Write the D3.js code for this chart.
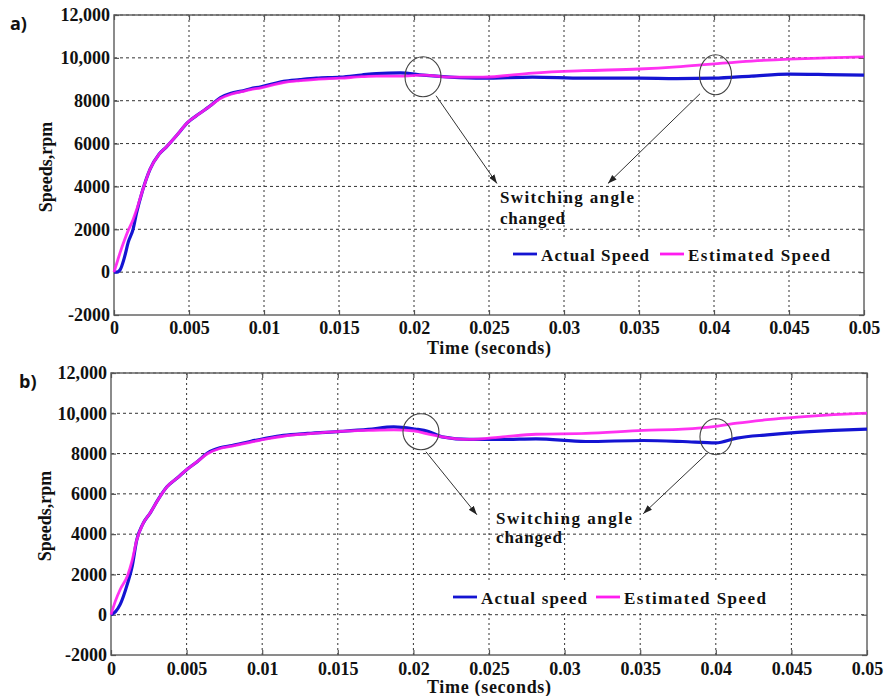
<!DOCTYPE html>
<html><head><meta charset="utf-8">
<script src="https://cdnjs.cloudflare.com/ajax/libs/d3/7.8.5/d3.min.js"></script>
<style>body{margin:0;background:#fff}svg{display:block}</style>
</head><body>
<script>
// ---------- DATA ----------
const xTicks = [0, 0.005, 0.01, 0.015, 0.02, 0.025, 0.03, 0.035, 0.04, 0.045, 0.05];
const xTickLabels = ["0","0.005","0.01","0.015","0.02","0.025","0.03","0.035","0.04","0.045","0.05"];
const yTicks = [-2000, 0, 2000, 4000, 6000, 8000, 10000, 12000];
const yTickLabels = ["-2000","0","2000","4000","6000","8000","10,000","12,000"];

const timeA = [0,0.0002,0.0004,0.0007,0.00095,0.00127,0.0015,0.0019,0.0024,0.003,0.0035,0.0042,0.0049,0.0057,0.0064,0.0071,0.0078,0.0085,0.0091,0.0098,0.0106,0.0113,0.0124,0.0135,0.0151,0.0165,0.0175,0.0191,0.0206,0.0224,0.0246,0.0279,0.0313,0.035,0.0375,0.04,0.0425,0.045,0.0475,0.05];
const actualA = [0,0,100,700,1400,2000,2750,3800,4800,5500,5850,6400,6980,7400,7750,8150,8350,8450,8560,8650,8790,8900,8980,9050,9100,9200,9270,9300,9190,9100,9050,9100,9050,9050,9030,9050,9150,9240,9220,9190];
const estimatedA = [0,450,900,1500,1950,2450,2900,3800,4800,5500,5850,6400,6980,7400,7750,8100,8300,8420,8520,8600,8740,8850,8940,9000,9050,9120,9150,9150,9190,9100,9100,9290,9400,9480,9580,9720,9850,9940,10000,10050];

const timeB = [0,0.0003,0.0006,0.0011,0.0014,0.0017,0.0021,0.0026,0.0031,0.0037,0.0044,0.005,0.0057,0.0064,0.0072,0.008,0.0092,0.0104,0.0114,0.013,0.0152,0.017,0.0187,0.0201,0.021,0.0219,0.0237,0.0259,0.0281,0.0314,0.0352,0.0378,0.04,0.0414,0.0434,0.0454,0.0478,0.05];
const actualB = [0,150,500,1570,2400,3700,4500,5060,5700,6350,6800,7200,7600,8040,8290,8400,8600,8780,8900,9000,9100,9200,9330,9220,9100,8830,8700,8700,8730,8600,8650,8600,8530,8770,8930,9050,9150,9210];
const estimatedB = [0,700,1240,1950,2700,3700,4500,5060,5700,6350,6800,7200,7600,8000,8250,8370,8560,8740,8860,8980,9100,9150,9180,9120,8960,8830,8700,8830,8960,9000,9150,9210,9350,9510,9680,9810,9930,10010];

const seriesNamesA = ["Actual Speed", "Estimated Speed"];
const seriesNamesB = ["Actual speed", "Estimated Speed"];
const seriesColors = ["#1414d2", "#ff1cf0"];
const annotationText = ["Switching angle", "changed"];
const xLabel = "Time (seconds)";
const yLabel = "Speeds,rpm";

// ---------- LAYOUT ----------
const W = 884, H = 696;
const svg = d3.select("body").append("svg").attr("width", W).attr("height", H);
const defs = svg.append("defs");
defs.append("marker").attr("id","arr").attr("viewBox","0 0 10 10").attr("refX",10).attr("refY",5)
  .attr("markerWidth",9).attr("markerHeight",9).attr("markerUnits","userSpaceOnUse").attr("orient","auto")
  .append("path").attr("d","M0,1.5 L10,5 L0,8.5 Z").attr("fill","#222");

const serif = "Liberation Serif, Times New Roman, serif";

function panel(cfg) {
  const x = d3.scaleLinear().domain([0, 0.05]).range([cfg.x0, cfg.x1]);
  const y = d3.scaleLinear().domain([-2000, 12000]).range([cfg.y1, cfg.y0]);
  const g = svg.append("g");

  // grid
  g.append("g").selectAll("line").data(xTicks.slice(1, -1)).join("line")
    .attr("x1", d => x(d)).attr("x2", d => x(d)).attr("y1", cfg.y0).attr("y2", cfg.y1)
    .attr("stroke", "#333").attr("stroke-width", 1).attr("stroke-dasharray", "2,3");
  g.append("g").selectAll("line").data(yTicks.slice(1)).join("line")
    .attr("x1", cfg.x0).attr("x2", cfg.x1).attr("y1", d => y(d)).attr("y2", d => y(d))
    .attr("stroke", "#333").attr("stroke-width", 1).attr("stroke-dasharray", "3,3");

  // legend background (hides grid)
  g.append("rect").attr("x", cfg.leg.x - 6).attr("y", cfg.leg.y - 14).attr("width", cfg.leg.w).attr("height", 28).attr("fill", "#fff");

  // axes box
  g.append("rect").attr("x", cfg.x0).attr("y", cfg.y0).attr("width", cfg.x1 - cfg.x0).attr("height", cfg.y1 - cfg.y0)
    .attr("fill", "none").attr("stroke", "#666").attr("stroke-width", 1.5);

  // axes with inner ticks
  const xb = d3.axisBottom(x).tickValues(xTicks).tickFormat((d, i) => xTickLabels[i]).tickSizeInner(-5).tickSizeOuter(0).tickPadding(cfg.xpad);
  const xt = d3.axisTop(x).tickValues(xTicks).tickFormat("").tickSizeInner(-5).tickSizeOuter(0);
  const yl = d3.axisLeft(y).tickValues(yTicks).tickFormat((d, i) => yTickLabels[i]).tickSizeInner(-5).tickSizeOuter(0).tickPadding(4);
  const yr = d3.axisRight(y).tickValues(yTicks).tickFormat("").tickSizeInner(-5).tickSizeOuter(0);
  const gx = g.append("g").attr("transform", `translate(0,${cfg.y1})`).call(xb);
  g.append("g").attr("transform", `translate(0,${cfg.y0})`).call(xt);
  const gy = g.append("g").attr("transform", `translate(${cfg.x0},0)`).call(yl);
  g.append("g").attr("transform", `translate(${cfg.x1},0)`).call(yr);
  g.selectAll(".domain").remove();
  [gx, gy].forEach(a => a.attr("font-family", serif).attr("font-size", 18).attr("font-weight", "bold"));
  g.selectAll(".tick line").attr("stroke", "#555").attr("stroke-width", 1.2);
  gx.selectAll("text").style("font-family", serif).style("font-weight", "bold").style("font-size", "18px").attr("fill", "#111")
    .attr("dy", "0.75em");
  gy.selectAll("text").style("font-family", serif).style("font-weight", "bold").style("font-size", "18px").attr("fill", "#111");

  // lines
  const line = d3.line().x(d => x(d[0])).y(d => y(d[1])).curve(d3.curveMonotoneX);
  const s1 = cfg.t.map((t, i) => [t, cfg.a[i]]);
  const s2 = cfg.t.map((t, i) => [t, cfg.e[i]]);
  g.append("path").datum(s1).attr("d", line).attr("fill", "none").attr("stroke", seriesColors[0]).attr("stroke-width", 3.2);
  g.append("path").datum(s2).attr("d", line).attr("fill", "none").attr("stroke", seriesColors[1]).attr("stroke-width", 2.8).attr("stroke-opacity", 0.9);

  // annotations
  cfg.ell.forEach(e => {
    g.append("ellipse").attr("cx", x(e[0])).attr("cy", y(e[1])).attr("rx", e[2]).attr("ry", e[3])
      .attr("fill", "none").attr("stroke", "#444").attr("stroke-width", 1.1);
  });
  cfg.arrows.forEach(a => {
    g.append("line").attr("x1", x(a[0])).attr("y1", y(a[1])).attr("x2", x(a[2])).attr("y2", y(a[3]))
      .attr("stroke", "#333").attr("stroke-width", 1).attr("marker-end", "url(#arr)");
  });
  annotationText.forEach((t, i) => {
    g.append("text").attr("x", x(cfg.txt[0])).attr("y", y(cfg.txt[1 + i]))
      .style("font-family", serif).style("font-weight", "bold").style("font-size", "17px").attr("fill", "#111")
      .attr("textLength", cfg.txtLen[i]).attr("lengthAdjust", "spacing").text(t);
  });

  // legend
  const L = cfg.leg;
  cfg.names.forEach((n, i) => {
    const lx = L.items[i];
    g.append("line").attr("x1", lx).attr("x2", lx + 24).attr("y1", L.y).attr("y2", L.y)
      .attr("stroke", seriesColors[i]).attr("stroke-width", 2.8);
    g.append("text").attr("x", lx + 28).attr("y", L.y + 7).style("font-family", serif).style("font-weight", "bold")
      .style("font-size", "17px").attr("fill", "#111").attr("textLength", L.lens[i]).attr("lengthAdjust", "spacing").text(n);
  });

  // axis labels
  g.append("text").attr("x", (cfg.x0 + cfg.x1) / 2).attr("y", cfg.xlabY).attr("text-anchor", "middle")
    .style("font-family", serif).style("font-weight", "bold").style("font-size", "18px").attr("fill", "#111")
    .attr("textLength", 124).attr("lengthAdjust", "spacing").text(xLabel);
  g.append("text").attr("transform", `translate(${cfg.ylabX},${(cfg.y0 + cfg.y1) / 2 + 2}) rotate(-90)`).attr("text-anchor", "middle")
    .style("font-family", serif).style("font-weight", "bold").style("font-size", "18px").attr("fill", "#111").text(yLabel);

  // panel letter
  g.append("text").attr("x", cfg.letter[0]).attr("y", cfg.letter[1]).style("font-family", "Open Sans, DejaVu Sans, sans-serif")
    .style("font-weight", "bold").style("font-size", "18px").attr("fill", "#111").text(cfg.letter[2]);
}

panel({
  x0: 114, x1: 864, y0: 15, y1: 315, xpad: 5,
  t: timeA, a: actualA, e: estimatedA, names: seriesNamesA,
  ell: [[0.0206, 9116, 18, 20], [0.0401, 9210, 16, 20]],
  arrows: [[0.02147, 8233, 0.02553, 4140], [0.03907, 8326, 0.03293, 4140]],
  txt: [0.02573, 3209, 2233], txtLen: [134, 65],
  leg: { x: 513, y: 254, w: 322, items: [513, 660], lens: [108, 142] },
  xlabY: 354, ylabX: 52, letter: [10, 30, "a)"]
});
panel({
  x0: 111, x1: 867, y0: 373, y1: 655, xpad: 6,
  t: timeB, a: actualB, e: estimatedB, names: seriesNamesB,
  ell: [[0.0205, 9082, 18, 18], [0.04001, 8834, 16, 18]],
  arrows: [[0.02083, 8089, 0.0242, 4963], [0.0394, 7990, 0.0352, 5012]],
  txt: [0.02546, 4516, 3573], txtLen: [136, 66],
  leg: { x: 453, y: 597, w: 320, items: [453, 596], lens: [106, 142] },
  xlabY: 693, ylabX: 51, letter: [19, 388, "b)"]
});
</script>
</body></html>
